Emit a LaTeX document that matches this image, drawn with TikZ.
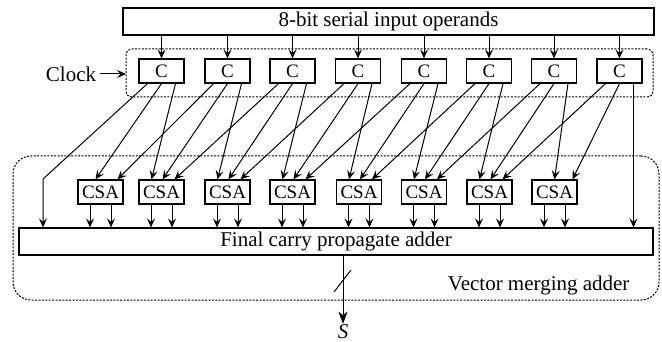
\documentclass[tikz,border=0pt]{standalone}
\usepackage{fontspec}
\setmainfont{Liberation Serif}
\usetikzlibrary{arrows.meta}

\begin{document}
\begin{tikzpicture}[x=1pt,y=-1pt,
  font=\fontsize{21}{25}\selectfont,
  box/.style={draw, line width=1.2pt, minimum width=45pt, minimum height=24pt, inner sep=0pt, font=\fontsize{19}{22}\selectfont},
  wide/.style={draw, line width=1.2pt, inner sep=0pt, minimum height=27pt},
  frame/.style={draw, line width=1pt, dash pattern=on 2pt off 1.4pt, inner sep=0pt, outer sep=0pt},
  wire/.style={line width=1pt, -{Stealth[length=9pt,width=8pt,inset=3.5pt]}},
  tick/.style={line width=1pt}]
\useasboundingbox (0,0) rectangle (662,342);

% dotted groups
\node[frame, rounded corners=6pt, minimum width=527pt, minimum height=48pt] (clkbox) at (389.5,73) {};
\node[frame, rounded corners=18pt, minimum width=646pt, minimum height=144pt] (vma) at (336,228) {};

\node[wide, minimum width=531pt] (in) at (388.5,21.5) {8-bit serial input operands};
\node[wide, minimum width=634pt] (adder) at (336,241.5) {Final carry propagate adder};

\node[box] (c1) at (161.5,71) {C};
\node[box] (c2) at (227.5,71) {C};
\node[box] (c3) at (292.5,71) {C};
\node[box] (c4) at (358,71) {C};
\node[box] (c5) at (424,71) {C};
\node[box] (c6) at (489,71) {C};
\node[box] (c7) at (554,71) {C};
\node[box] (c8) at (619.5,71) {C};

\node[box] (s1) at (100.5,192) {CSA};
\node[box] (s2) at (161.5,192) {CSA};
\node[box] (s3) at (227.5,192) {CSA};
\node[box] (s4) at (292.5,192) {CSA};
\node[box] (s5) at (359,192) {CSA};
\node[box] (s6) at (424,192) {CSA};
\node[box] (s7) at (489.5,192) {CSA};
\node[box] (s8) at (554.5,192) {CSA};

\node (clk) at (71,74) {Clock};
\node[anchor=east] (vlabel) at (633,285) {Vector merging adder};
\node[font=\fontsize{21}{25}\selectfont\itshape, inner sep=1pt] (sum) at (343,332) {S};

% operands into the latches
\foreach \k in {1,...,8}
  \draw[wire] (c\k |- in.south) -- (c\k.north);
\draw[wire] (clk.east) -- (clk.east -| clkbox.west);

% latches into the CSA row
\foreach \k/\dx in {1/-5,2/1,3/1,4/1,5/1,6/1,7/1,8/18}
  \draw[wire] (c\k.south) -- ([xshift=\dx pt]s\k.north);
\foreach \k/\n/\dx in {1/2/-10,2/3/-10,3/4/-10,4/5/-10,5/6/-10,6/7/-10,7/8/0}
  \draw[wire] ([xshift=14pt]c\k.south) -- ([xshift=\dx pt]s\n.north);
\foreach \k/\n/\dx in {2/1/17,3/2/13,4/3/13,5/4/13,6/5/13,7/6/13,8/7/13}
  \draw[wire] ([xshift=-14pt]c\k.south) -- ([xshift=\dx pt]s\n.north);

% CSA outputs into the final adder
\foreach \k in {1,...,8} {
  \coordinate (sl\k) at ([xshift=-10.5pt]s\k.south);
  \coordinate (sr\k) at ([xshift=10.5pt]s\k.south);
  \draw[wire] (sl\k) -- (sl\k |- adder.north);
  \draw[wire] (sr\k) -- (sr\k |- adder.north);
}
\coordinate (lbend) at (43,179);
\draw[wire] ([xshift=-14pt]c1.south) -- (lbend) -- (lbend |- adder.north);
\coordinate (rtap) at ([xshift=14pt]c8.south);
\draw[wire] (rtap) -- (rtap |- adder.north);

% result
\draw[line width=1pt, -{Stealth[length=12pt,width=9pt,inset=3.5pt]}] (sum |- adder.south) -- (sum.north);
\coordinate (bus) at (343,281);
\draw[tick] ([shift={(-9,11)}]bus) -- ([shift={(8,-11)}]bus);
\end{tikzpicture}
\end{document}
